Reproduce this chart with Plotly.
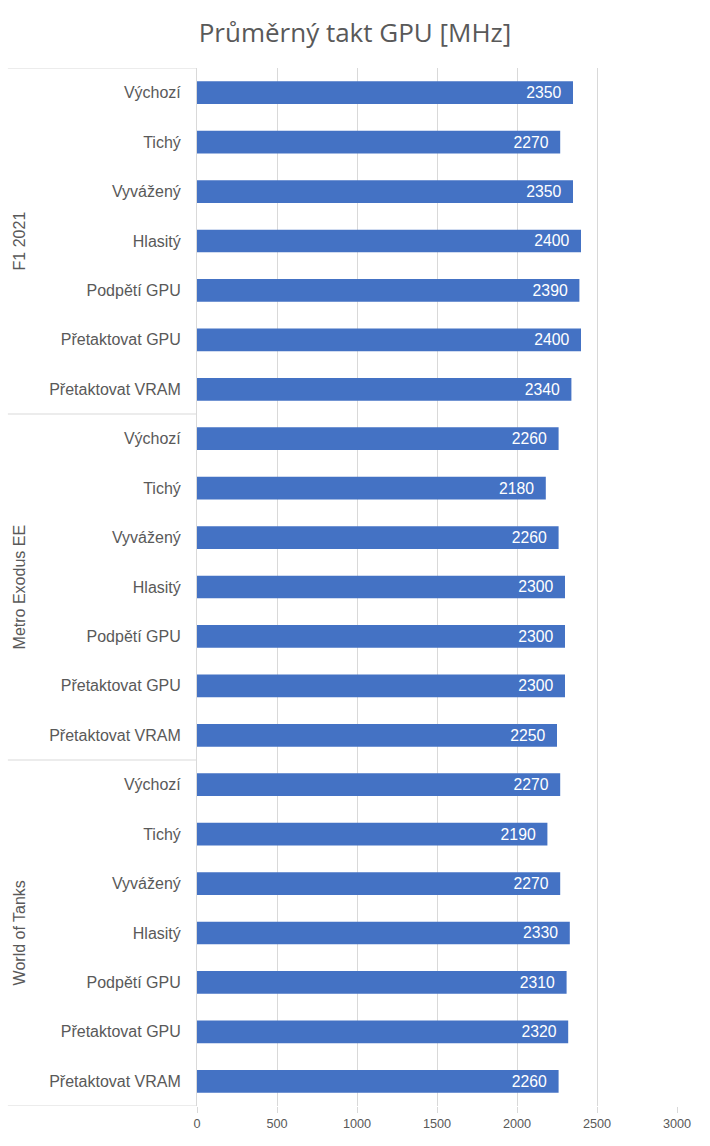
import plotly.graph_objects as go

groups = ["F1 2021", "Metro Exodus EE", "World of Tanks"]
modes = ["Výchozí", "Tichý", "Vyvážený", "Hlasitý", "Podpětí GPU", "Přetaktovat GPU", "Přetaktovat VRAM"]
f1_2021 = [2350, 2270, 2350, 2400, 2390, 2400, 2340]
metro = [2260, 2180, 2260, 2300, 2300, 2300, 2250]
wot = [2270, 2190, 2270, 2330, 2310, 2320, 2260]
series = [f1_2021, metro, wot]
x_ticks = [0, 500, 1000, 1500, 2000, 2500, 3000]

values, ypos, labels = [], [], []
for gi, vals in enumerate(series):
    for mi, v in enumerate(vals):
        values.append(v)
        ypos.append(gi * len(modes) + mi)
        labels.append(modes[mi])

grey = "#595959"
gridc = "#d9d9d9"
FONT = "Arial, Liberation Sans, sans-serif"

fig = go.Figure(go.Bar(
    x=values, y=ypos, orientation="h",
    marker=dict(color="#4472c4", line=dict(width=0)),
    width=0.46,
    text=[f"{v}\u00a0\u00a0" for v in values], textposition="inside", insidetextanchor="end",
    textfont=dict(color="white", size=16, family=FONT),
    cliponaxis=False,
))

n = len(ypos)
for gi, g in enumerate(groups):
    fig.add_annotation(
        x=-0.370, xref="paper", xanchor="center", y=gi * len(modes) + (len(modes) - 1) / 2, yref="y",
        yanchor="middle", text=g, textangle=-90, showarrow=False,
        font=dict(size=16, color=grey, family=FONT),
    )
for b in range(len(groups) + 1):
    yb = b * len(modes) - 0.5
    fig.add_shape(type="line", xref="paper", yref="y", x0=-0.394, x1=0, y0=yb, y1=yb,
                  line=dict(color=gridc, width=1))

fig.update_layout(
    width=710, height=1146,
    margin=dict(l=197, r=33, t=68, b=40),
    paper_bgcolor="white", plot_bgcolor="white",
    title=dict(text="Průměrný takt GPU [MHz]", x=0.5, xanchor="center", y=0.971, yanchor="middle",
               font=dict(size=26, color=grey, family="Open Sans")),
    showlegend=False,
    xaxis=dict(range=[0, 3000], tickvals=x_ticks, showgrid=True, gridcolor=gridc, gridwidth=1,
               zeroline=False, showline=False, ticks="outside", ticklen=6, tickcolor=gridc,
               tickfont=dict(size=12.7, color=grey, family=FONT)),
    yaxis=dict(range=[n - 0.5, -0.5], tickvals=ypos, ticktext=labels, showgrid=False,
               zeroline=False, showline=True, linecolor=gridc, linewidth=1,
               ticks="outside", ticklen=12, tickcolor="rgba(0,0,0,0)",
               tickfont=dict(size=16, color=grey, family=FONT)),
)

fig.write_html("out.html")
